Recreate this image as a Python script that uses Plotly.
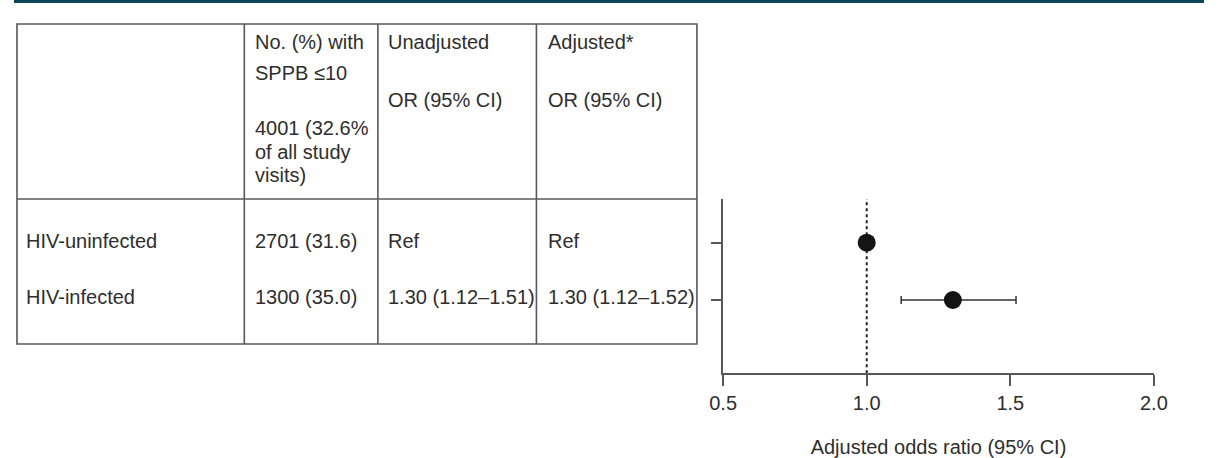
import plotly.graph_objects as go

# ---------------- data ----------------
groups = ["HIV-uninfected", "HIV-infected"]
n_counts = [2701, 1300]
n_pct = [31.6, 35.0]
unadj_or = [None, 1.30]
unadj_lo = [None, 1.12]
unadj_hi = [None, 1.51]
adj_or = [1.00, 1.30]
adj_lo = [None, 1.12]
adj_hi = [None, 1.52]
total_n = 4001
total_pct = 32.6
x_ticks = [0.5, 1.0, 1.5, 2.0]
x_tick_labels = ["0.5", "1.0", "1.5", "2.0"]

H = 458
X_OFF, X_SPAN = 12.0, 1193.6   # visible drawing area in the photographed page
FONT = "Liberation Sans, Arial, Helvetica, sans-serif"
FS = 20
TXT = "#2e2e2e"
LINE = "#585858"

def px(x):
    return (x - X_OFF) / X_SPAN

def py(y):
    return 1 - y / H

fig = go.Figure()

# forest plot points
ypos = [2, 1]
err_plus = [0 if h is None else h - o for h, o in zip(adj_hi, adj_or)]
err_minus = [0 if l is None else o - l for l, o in zip(adj_lo, adj_or)]
err_vis = [l is not None for l in adj_lo]

fig.add_trace(go.Scatter(
    x=[o for o, v in zip(adj_or, err_vis) if v],
    y=[y for y, v in zip(ypos, err_vis) if v],
    mode="markers",
    marker=dict(size=1, color="rgba(0,0,0,0)"),
    error_x=dict(type="data", symmetric=False,
                 array=[p for p, v in zip(err_plus, err_vis) if v],
                 arrayminus=[m for m, v in zip(err_minus, err_vis) if v],
                 color="#333333", thickness=1.5, width=4),
    showlegend=False, hoverinfo="skip",
))
fig.add_trace(go.Scatter(
    x=adj_or, y=ypos, mode="markers",
    marker=dict(size=18, color="#141414"),
    showlegend=False,
))

fig.add_shape(type="line", xref="x", yref="y domain", x0=1.0, x1=1.0, y0=0, y1=1,
              line=dict(color="#222222", width=2, dash="dot"), layer="below")

# ---------------- table ----------------
tx0, tx1 = 15, 697
ty0, ty1 = 24, 344
col_x = [243, 377, 536]
hdr_y = 199
shapes = []
shapes.append(dict(type="rect", xref="paper", yref="paper",
                   x0=px(tx0), x1=px(tx1), y0=py(ty1), y1=py(ty0),
                   line=dict(color=LINE, width=1.6)))
for cx in col_x:
    shapes.append(dict(type="line", xref="paper", yref="paper",
                       x0=px(cx), x1=px(cx), y0=py(ty1), y1=py(ty0),
                       line=dict(color=LINE, width=1.6)))
shapes.append(dict(type="line", xref="paper", yref="paper",
                   x0=px(tx0), x1=px(tx1), y0=py(hdr_y), y1=py(hdr_y),
                   line=dict(color=LINE, width=1.6)))
# teal frame band along the top
shapes.append(dict(type="rect", xref="paper", yref="paper", x0=0, x1=1,
                   y0=py(3), y1=1, fillcolor="#0b4558", line=dict(width=0)))
for s in shapes:
    fig.add_shape(**s)

def fmt_or(o, l, h):
    if l is None:
        return "Ref"
    return f"{o:.2f} ({l:.2f}\u2013{h:.2f})"

texts = []
c2, c3, c4, c1 = 252, 385, 546, 22
texts += [(c2, 42, "No. (%) with"), (c2, 73, "SPPB \u226410"),
          (c2, 128, f"{total_n} ({total_pct}%"), (c2, 152, "of all study"),
          (c2, 175, "visits)")]
texts += [(c3, 42, "Unadjusted"), (c3, 100, "OR (95% CI)"),
          (c4, 42, "Adjusted*"), (c4, 100, "OR (95% CI)")]
row_y = [241, 297]
for i, g in enumerate(groups):
    texts.append((c1, row_y[i], g))
    texts.append((c2, row_y[i], f"{n_counts[i]} ({n_pct[i]:.1f})"))
    texts.append((c3, row_y[i], fmt_or(unadj_or[i], unadj_lo[i], unadj_hi[i])))
    texts.append((c4, row_y[i], fmt_or(adj_or[i], adj_lo[i], adj_hi[i])))

for x, y, t in texts:
    fig.add_annotation(x=px(x), y=py(y), xref="paper", yref="paper", text=t,
                       showarrow=False, xanchor="left", yanchor="middle",
                       font=dict(family=FONT, size=FS, color=TXT))

# ---------------- axes ----------------
ax_x0, ax_x1 = 723.3, 1155.3
ax_y0, ax_y1 = 199, 373.3
yunit = (300 - 242.7)
y_top = 2 + (242.7 - ax_y0) / yunit
y_bot = 1 - (ax_y1 - 300) / yunit

fig.update_layout(
    autosize=True,
    margin=dict(l=0, r=0, t=0, b=0),
    paper_bgcolor="white", plot_bgcolor="white",
    font=dict(family=FONT, size=FS, color=TXT),
    xaxis=dict(domain=[px(ax_x0), px(ax_x1)], range=[0.5, 2.0],
               tickvals=x_ticks, ticktext=x_tick_labels,
               showline=True, linecolor=LINE, linewidth=1.6,
               ticks="outside", ticklen=11, tickwidth=1.6, tickcolor=LINE,
               showgrid=False, zeroline=False,
               tickfont=dict(size=FS, color=TXT),
               title=dict(text="Adjusted odds ratio (95% CI)", standoff=28,
                          font=dict(size=FS, color=TXT))),
    yaxis=dict(domain=[py(ax_y1), py(ax_y0)], range=[y_bot, y_top],
               tickvals=ypos, ticktext=["", ""],
               showline=True, linecolor=LINE, linewidth=1.6,
               ticks="outside", ticklen=10, tickwidth=1.6, tickcolor=LINE,
               showgrid=False, zeroline=False),
)

fig.write_html(
    "out.html",
    config={"displayModeBar": False, "responsive": True},
    default_width="100vw", default_height="100vh",
    post_script="document.body.style.margin='0px';document.body.style.overflow='hidden';"
                "document.documentElement.style.overflow='hidden';"
                "Plotly.Plots.resize(document.getElementById('{plot_id}'));",
)
